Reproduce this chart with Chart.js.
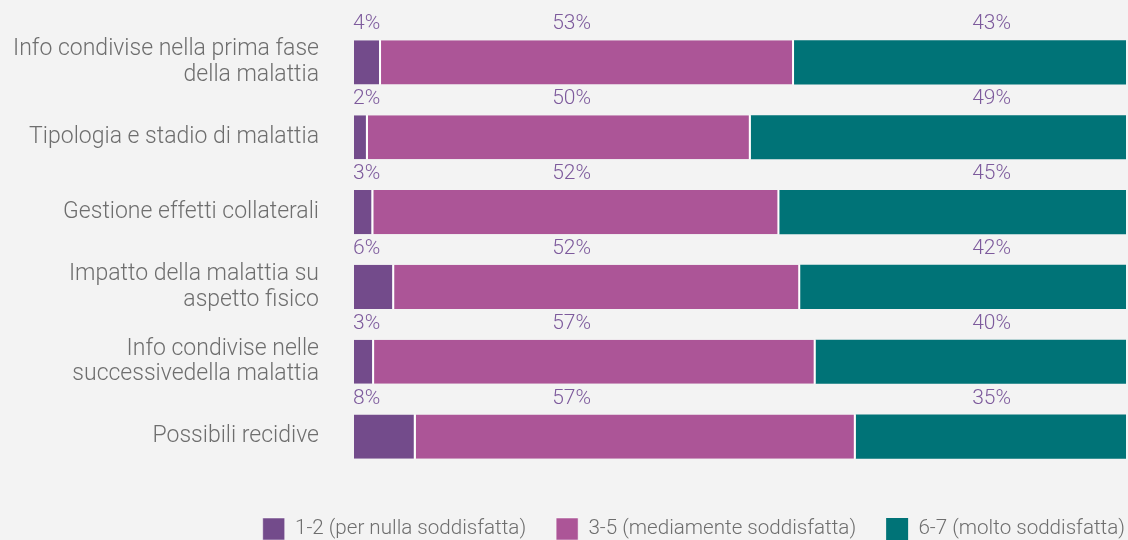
<!DOCTYPE html>
<html lang="it">

<head>
  <meta charset="UTF-8">
  <title>Soddisfazione informazioni</title>

  <script src="https://cdn.jsdelivr.net/npm/chart.js@4.4.0/dist/chart.umd.min.js"></script>

  <style>
    html, body {
      margin: 0;
      padding: 0;
      overflow: hidden;
      background-color: #f3f3f3;
    }

    .chart-container {
      position: relative;
      width: 1155px;
      height: 550px;
    }
  </style>
</head>

<body>

  <div class="chart-container">
    <canvas id="chart"></canvas>
  </div>

  <script>
    const categories = [
      ['Info condivise nella prima fase', 'della malattia'],
      'Tipologia e stadio di malattia',
      'Gestione effetti collaterali',
      ['Impatto della malattia su', 'aspetto fisico'],
      ['Info condivise nelle', 'successivedella malattia'],
      'Possibili recidive'
    ];

    const seriesNames = ['1-2 (per nulla soddisfatta)', '3-5 (mediamente soddisfatta)', '6-7 (molto soddisfatta)'];

    // bar lengths
    const low = [3.5, 1.8, 2.5, 5.2, 2.6, 8.0];
    const mid = [53.5, 49.6, 52.6, 52.6, 57.2, 57.0];
    const high = [43.0, 48.6, 44.9, 42.2, 40.2, 35.0];

    // printed labels
    const lowLabels = ['4%', '2%', '3%', '6%', '3%', '8%'];
    const midLabels = ['53%', '50%', '52%', '52%', '57%', '57%'];
    const highLabels = ['43%', '49%', '45%', '42%', '40%', '35%'];

    // where each label column starts, on the 0-100 scale
    const labelColumns = [0, 25.8, 80.2];

    const colors = ['#734b8b', '#ac5597', '#007377'];

    const barLabels = {
      id: 'barLabels',
      afterDatasetsDraw(chart) {
        const ctx = chart.ctx;
        const x = chart.scales.x;
        const meta = chart.getDatasetMeta(0);
        const rows = [lowLabels, midLabels, highLabels];
        ctx.save();
        ctx.fillStyle = '#7d5a9c';
        ctx.font = '300 21px Roboto';
        ctx.textAlign = 'left';
        ctx.textBaseline = 'alphabetic';
        meta.data.forEach((bar, i) => {
          const top = bar.y - bar.height / 2;
          rows.forEach((labels, j) => {
            ctx.fillText(labels[i], x.getPixelForValue(labelColumns[j]) - 1, top - 11);
          });
        });
        ctx.restore();
      }
    };

    function dataset(i, values) {
      return {
        label: seriesNames[i],
        data: values,
        backgroundColor: colors[i],
        borderColor: '#ffffff',
        borderWidth: i < 2 ? { top: 0, bottom: 0, left: 0, right: 2 } : 0,
        borderSkipped: false,
        barPercentage: 0.59,
        categoryPercentage: 1
      };
    }

    new Chart(document.getElementById('chart'), {
      type: 'bar',
      data: {
        labels: categories,
        datasets: [dataset(0, low), dataset(1, mid), dataset(2, high)]
      },
      options: {
        indexAxis: 'y',
        responsive: true,
        maintainAspectRatio: false,
        animation: false,
        layout: {
          padding: { top: 25, left: 0, right: 0, bottom: 0 }
        },
        scales: {
          x: {
            stacked: true,
            min: 0,
            max: 100,
            grid: { display: false, drawTicks: false },
            border: { display: false },
            ticks: { display: false },
            afterFit(scale) { scale.height = 14; }
          },
          y: {
            stacked: true,
            grid: { display: false, drawTicks: false },
            border: { display: false },
            ticks: {
              color: '#6e6e6e',
              padding: 35,
              font: { family: 'Roboto', size: 23, weight: '300', lineHeight: 1.13 }
            },
            afterFit(scale) {
              scale.width = 354;
              scale.paddingTop = 0;
              scale.paddingBottom = 0;
            }
          },
          spacer: {
            type: 'linear',
            position: 'right',
            display: true,
            grid: { display: false, drawTicks: false },
            border: { display: false },
            ticks: { display: false },
            afterFit(scale) { scale.width = 29; }
          }
        },
        plugins: {
          tooltip: { enabled: false },
          legend: {
            position: 'bottom',
            align: 'end',
            labels: {
              boxWidth: 22,
              boxHeight: 22,
              padding: 30,
              color: '#6e6e6e',
              font: { family: 'Roboto', size: 20.6, weight: '300' }
            }
          }
        }
      },
      plugins: [barLabels]
    });
  </script>
</body>

</html>
